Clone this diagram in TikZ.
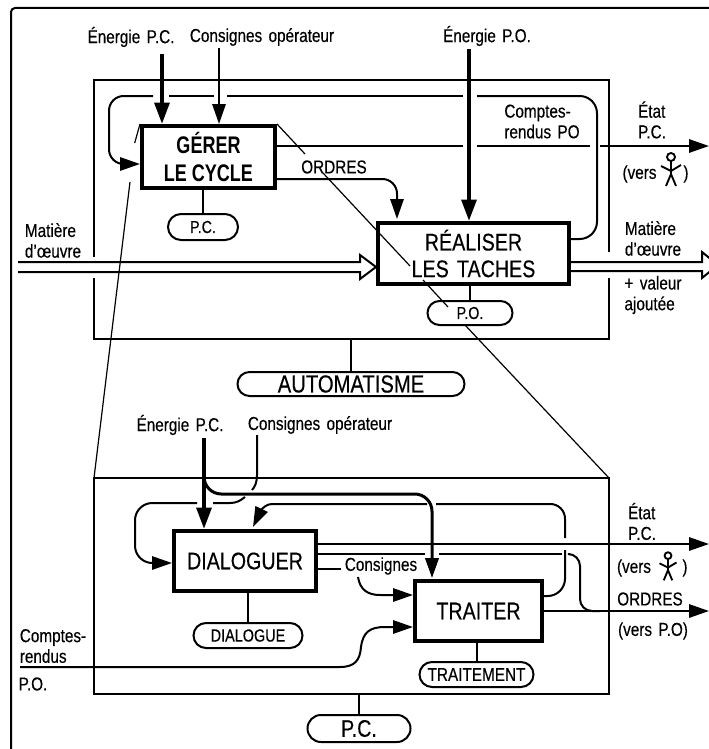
\documentclass[tikz,border=0pt]{standalone}
\usepackage{fontspec}
\usepackage{tikz}
\usetikzlibrary{arrows.meta,shapes.misc}
\setmainfont[FakeStretch=0.82,FakeBold=0.35,WordSpace=1.5]{Liberation Sans}
\newfontfamily\grasfont[FakeStretch=0.75]{Liberation Sans}

\tikzset{
    signal/.style={line width=1.5pt},
    fort/.style={line width=3pt},
    loupe/.style={line width=0.9pt},
    fleche/.style={signal,-{Triangle[length=15pt,width=10pt]}},
    flechefort/.style={fort,-{Triangle[length=16pt,width=11pt]}},
    bloc/.style 2 args={draw,line width=3pt,align=center,inner sep=0pt,
        minimum width=#1*0.75pt,minimum height=#2*0.75pt},
    pastille/.style 2 args={draw,rounded rectangle,line width=1.5pt,inner sep=0pt,
        minimum width=#1*0.75pt,minimum height=#2*0.75pt},
    petit/.style={font=\fontsize{14}{15.5}\selectfont,inner sep=0pt,align=left},
    titre/.style={font=\fontsize{18}{20}\selectfont},
    bonhomme/.pic={
        \draw[line width=1.4pt] (0,-11) circle (4);
        \draw[line width=1.4pt] (0,-7) -- (0,6) (-10,-2) -- (0,3) -- (10,-3)
            (-5,18) -- (0,6) -- (5,18);
    }
}

\begin{document}
\begin{tikzpicture}[x=0.75pt,y=-0.75pt]
    \useasboundingbox (0,0) rectangle (709,749);

    \node[bloc={133}{62},titre] (gerer) at (208.5,157) {\grasfont\bfseries GÉRER\\[1pt]\grasfont\bfseries LE CYCLE};
    \node[bloc={191}{61},titre] (realiser) at (473.5,253.5) {RÉALISER\\LES TACHES};
    \node[bloc={142}{60},titre] (dialoguer) at (245,561) {DIALOGUER};
    \node[bloc={127}{60},titre] (traiter) at (478.5,611) {TRAITER};

    \node[pastille={70}{26},font=\fontsize{13}{15}\selectfont] (pchaut) at (203,227) {P.C.};
    \node[pastille={85}{24},font=\fontsize{13}{15}\selectfont] (po) at (470,313) {P.O.};
    \node[pastille={227}{24},font=\fontsize{18.5}{20}\selectfont] (automatisme) at (351,384) {AUTOMATISME};
    \node[pastille={109}{25},font=\fontsize{13.2}{15}\selectfont] (dialogue) at (248,635.5) {DIALOGUE};
    \node[pastille={114}{25},font=\fontsize{14}{15}\selectfont] (traitement) at (476.5,674.5) {TRAITEMENT};
    \node[pastille={103}{27},font=\fontsize{18}{20}\selectfont] (pcbas) at (359,728.5) {P.C.};

    \node[draw,signal,inner sep=0pt,outer sep=0pt,minimum width=515*0.75pt,minimum height=216*0.75pt] (cadrebas) at (351.5,586) {};

    \node[petit] (enpc) at (131,37) {Énergie P.C.};
    \node[petit] (consop) at (262,37) {Consignes opérateur};
    \node[petit] (enpo) at (487,36) {Énergie P.O.};
    \node[petit] (comptes) at (542,121.5) {Comptes-\\rendus PO};
    \node[petit] (etat) at (652,120) {État\\P.C.};
    \node[petit] (vers) at (639.5,174) {(vers};
    \node[petit] (parf) at (686,174) {)};
    \node[petit] (ordres) at (334,167) {ORDRES};
    \node[petit] (matg) at (53,240.5) {Matière\\d’œuvre};
    \node[petit] (matd) at (653,238.5) {Matière\\d’œuvre};
    \node[petit] (valeur) at (653,295) {+ valeur\\ajoutée};
    \node[petit] (enpcb) at (180,425) {Énergie P.C.};
    \node[petit] (consopb) at (320,425) {Consignes opérateur};
    \node[petit] (etatb) at (642,521.5) {État\\P.C.};
    \node[petit] (versb) at (634,568) {(vers};
    \node[petit] (parfb) at (685,568) {)};
    \node[petit] (consignes) at (381,566) {Consignes};
    \node[petit] (ordresb) at (650,599) {ORDRES};
    \node[petit] (versbpo) at (653,631) {(vers P.O)};
    \node[petit] (comptesb) at (53,646) {Comptes-\\rendus};
    \node[petit] (pob) at (33,684) {P.O.};

    \pic at (671,168) {bonhomme};
    \pic[scale=0.85] at (668,565) {bonhomme};

    \draw[signal,rounded corners=3pt] (709,8) -- (11,8) -- (11,749);

    \draw[signal] (94,257) -- (94,80) -- (609,80) -- (609,252);
    \draw[signal] (609,278) -- (609,339) -- (94,339) -- (94,278);

    \coordinate (bashaut) at (94,339);
    \draw[signal] (gerer.south -| pchaut.north) -- (pchaut.north);
    \draw[signal] (realiser.south -| po.north) -- (po.north);
    \draw[signal] (automatisme.north |- bashaut) -- (automatisme.north);
    \draw[signal] (dialoguer.south -| dialogue.north) -- (dialogue.north);
    \draw[signal] (traiter.south -| traitement.north) -- (traitement.north);
    \draw[signal] (pcbas.north |- cadrebas.south) -- (pcbas.north);

    \coordinate (a1) at (162,54);
    \coordinate (a2) at (219,48);
    \coordinate (a3) at (469,49);
    \draw[flechefort] (a1) -- (a1 |- gerer.north);
    \draw[fleche] (a2) -- (a2 |- gerer.north);
    \draw[flechefort] (a3) -- (a3 |- realiser.north);

    \draw[signal,rounded corners=13pt] (realiser.east |- 0,239) -- (597,239) -- (597,96) -- (477,96);
    \draw[signal] (463,96) -- (227,96);
    \draw[signal] (214,96) -- (169,96);
    \draw[fleche,rounded corners=11pt] (153,96) -- (109,96) -- (109,164) -- (gerer.west |- 0,164);

    \draw[signal] (gerer.east |- 0,146) -- (463,146);
    \draw[signal] (477,146) -- (590,146);
    \draw[fleche] (600,146) -- (709,146);
    \draw[fleche,rounded corners=11pt] (gerer.east |- 0,179) -- (397,179) -- (397,219);

    \draw[signal] (18,262) -- (360,262) -- (360,255) -- (realiser.west |- 0,267) -- (360,279) -- (360,272) -- (18,272);
    \draw[signal] (realiser.east |- 0,262) -- (702,262) -- (702,252) -- (718,265) -- (702,278) -- (702,271) -- (realiser.east |- 0,271);

    \draw[loupe] (gerer.north west) -- (134.7,143);
    \draw[loupe] (130,182) -- (cadrebas.north west);
    \draw[loupe] (gerer.north east) -- (305,154);
    \draw[loupe] (323,173) -- (410,266);
    \draw[loupe] (423,280) -- (448,307);
    \draw[loupe] (465,325) -- (cadrebas.north east);

    \coordinate (b1) at (204,438);
    \draw[flechefort] (b1) -- (b1 |- dialoguer.north);
    \draw[line width=2.25pt,rounded corners=13pt,-{Triangle[length=15pt,width=10pt]}] (204,470) -- (204,494) -- (432,494) -- (432,578);

    \draw[signal] (257,435) -- (257,475) .. controls (257,482) and (255,487) .. (252,490);
    \draw[signal] (245,497) .. controls (240,501) and (236,503) .. (230,503) -- (213,503);
    \draw[fleche,rounded corners=13pt] (197,503) -- (135,503) -- (135,563) -- (dialoguer.west |- 0,563);

    \draw[signal,rounded corners=13pt] (traiter.east |- 0,596) -- (565,596) -- (565,550);
    \draw[signal,rounded corners=11pt] (565,538) -- (565,504) -- (436,504);
    \draw[fleche,rounded corners=6pt] (427,504) -- (264,504) -- (253,527);

    \draw[fleche] (dialoguer.east |- 0,544) -- (709,544);
    \draw[signal] (dialoguer.east |- 0,554) -- (425,554);
    \draw[signal] (439,554) -- (562,554);
    \draw[signal,rounded corners=9pt] (570,554) -- (580,554) -- (580,611) -- (600,611);
    \draw[signal] (dialoguer.east |- 0,569) -- (341,569);
    \draw[fleche] (358,577) .. controls (360,590) and (368,595) .. (380,595) -- (traiter.west |- 0,595);
    \draw[fleche] (traiter.east |- 0,611) -- (709,611);
    \draw[fleche] (20,667) -- (340,667) .. controls (355,667) and (360,660) .. (361,647) .. controls (363,632) and (370,627) .. (385,627) -- (traiter.west |- 0,627);
\end{tikzpicture}
\end{document}
